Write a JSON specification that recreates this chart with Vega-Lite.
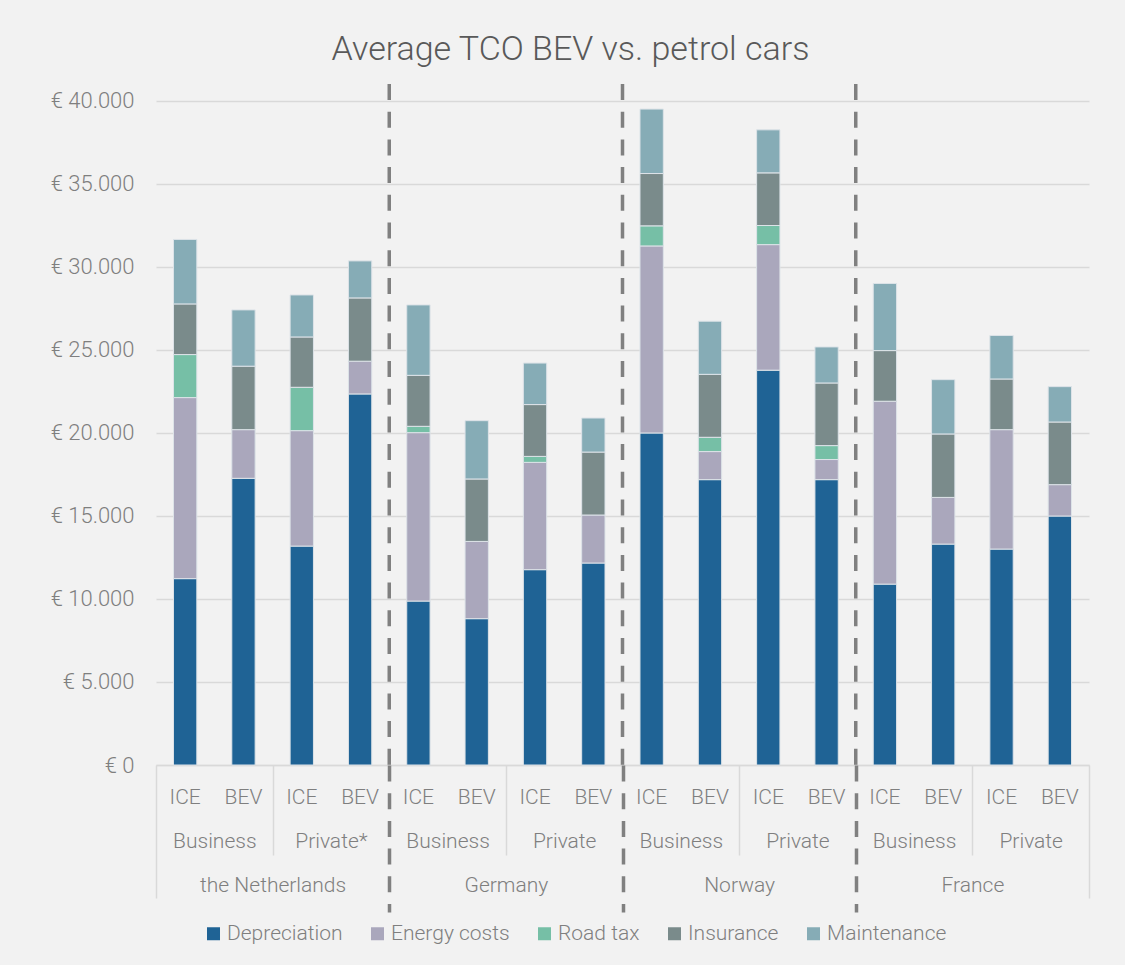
{
  "$schema": "https://vega.github.io/schema/vega-lite/v6.json",
  "width": 933,
  "height": 681,
  "autosize": {"type": "none"},
  "padding": {"left": 156, "top": 84, "right": 36, "bottom": 200},
  "background": "#f2f2f2",
  "title": {
    "text": "Average TCO BEV vs. petrol cars",
    "font": "Roboto",
    "fontSize": 34,
    "fontWeight": 300,
    "color": "#595959",
    "anchor": "middle",
    "frame": "group",
    "baseline": "alphabetic",
    "offset": 24,
    "dx": -52,
    "dy": 36
  },
  "config": {
    "font": "Roboto",
    "view": {"stroke": null},
    "axis": {
      "labelFont": "Roboto",
      "labelFontWeight": 300,
      "labelFontSize": 21,
      "labelColor": "#7f7f7f",
      "title": null
    },
    "legend": {
      "orient": "none",
      "legendX": 47,
      "legendY": 839,
      "direction": "horizontal",
      "title": null,
      "symbolType": "square",
      "symbolSize": 169,
      "symbolStrokeWidth": 0,
      "labelFont": "Roboto",
      "labelFontWeight": 300,
      "labelFontSize": 21,
      "labelColor": "#7f7f7f",
      "labelOffset": 3,
      "columnPadding": 24
    }
  },
  "datasets": {
    "costs": [
      {"country": "the Netherlands", "segment": "Business", "car": "ICE", "component": "Depreciation", "value": 11220},
      {"country": "the Netherlands", "segment": "Business", "car": "ICE", "component": "Energy costs", "value": 10900},
      {"country": "the Netherlands", "segment": "Business", "car": "ICE", "component": "Road tax", "value": 2590},
      {"country": "the Netherlands", "segment": "Business", "car": "ICE", "component": "Insurance", "value": 3050},
      {"country": "the Netherlands", "segment": "Business", "car": "ICE", "component": "Maintenance", "value": 3880},
      {"country": "the Netherlands", "segment": "Business", "car": "BEV", "component": "Depreciation", "value": 17260},
      {"country": "the Netherlands", "segment": "Business", "car": "BEV", "component": "Energy costs", "value": 2930},
      {"country": "the Netherlands", "segment": "Business", "car": "BEV", "component": "Insurance", "value": 3820},
      {"country": "the Netherlands", "segment": "Business", "car": "BEV", "component": "Maintenance", "value": 3390},
      {"country": "the Netherlands", "segment": "Private", "car": "ICE", "component": "Depreciation", "value": 13180},
      {"country": "the Netherlands", "segment": "Private", "car": "ICE", "component": "Energy costs", "value": 6950},
      {"country": "the Netherlands", "segment": "Private", "car": "ICE", "component": "Road tax", "value": 2610},
      {"country": "the Netherlands", "segment": "Private", "car": "ICE", "component": "Insurance", "value": 3030},
      {"country": "the Netherlands", "segment": "Private", "car": "ICE", "component": "Maintenance", "value": 2530},
      {"country": "the Netherlands", "segment": "Private", "car": "BEV", "component": "Depreciation", "value": 22340},
      {"country": "the Netherlands", "segment": "Private", "car": "BEV", "component": "Energy costs", "value": 1970},
      {"country": "the Netherlands", "segment": "Private", "car": "BEV", "component": "Insurance", "value": 3810},
      {"country": "the Netherlands", "segment": "Private", "car": "BEV", "component": "Maintenance", "value": 2230},
      {"country": "Germany", "segment": "Business", "car": "ICE", "component": "Depreciation", "value": 9870},
      {"country": "Germany", "segment": "Business", "car": "ICE", "component": "Energy costs", "value": 10140},
      {"country": "Germany", "segment": "Business", "car": "ICE", "component": "Road tax", "value": 380},
      {"country": "Germany", "segment": "Business", "car": "ICE", "component": "Insurance", "value": 3070},
      {"country": "Germany", "segment": "Business", "car": "ICE", "component": "Maintenance", "value": 4240},
      {"country": "Germany", "segment": "Business", "car": "BEV", "component": "Depreciation", "value": 8810},
      {"country": "Germany", "segment": "Business", "car": "BEV", "component": "Energy costs", "value": 4650},
      {"country": "Germany", "segment": "Business", "car": "BEV", "component": "Insurance", "value": 3760},
      {"country": "Germany", "segment": "Business", "car": "BEV", "component": "Maintenance", "value": 3510},
      {"country": "Germany", "segment": "Private", "car": "ICE", "component": "Depreciation", "value": 11760},
      {"country": "Germany", "segment": "Private", "car": "ICE", "component": "Energy costs", "value": 6460},
      {"country": "Germany", "segment": "Private", "car": "ICE", "component": "Road tax", "value": 360},
      {"country": "Germany", "segment": "Private", "car": "ICE", "component": "Insurance", "value": 3120},
      {"country": "Germany", "segment": "Private", "car": "ICE", "component": "Maintenance", "value": 2500},
      {"country": "Germany", "segment": "Private", "car": "BEV", "component": "Depreciation", "value": 12160},
      {"country": "Germany", "segment": "Private", "car": "BEV", "component": "Energy costs", "value": 2890},
      {"country": "Germany", "segment": "Private", "car": "BEV", "component": "Insurance", "value": 3790},
      {"country": "Germany", "segment": "Private", "car": "BEV", "component": "Maintenance", "value": 2050},
      {"country": "Norway", "segment": "Business", "car": "ICE", "component": "Depreciation", "value": 19990},
      {"country": "Norway", "segment": "Business", "car": "ICE", "component": "Energy costs", "value": 11260},
      {"country": "Norway", "segment": "Business", "car": "ICE", "component": "Road tax", "value": 1210},
      {"country": "Norway", "segment": "Business", "car": "ICE", "component": "Insurance", "value": 3150},
      {"country": "Norway", "segment": "Business", "car": "ICE", "component": "Maintenance", "value": 3880},
      {"country": "Norway", "segment": "Business", "car": "BEV", "component": "Depreciation", "value": 17180},
      {"country": "Norway", "segment": "Business", "car": "BEV", "component": "Energy costs", "value": 1690},
      {"country": "Norway", "segment": "Business", "car": "BEV", "component": "Road tax", "value": 860},
      {"country": "Norway", "segment": "Business", "car": "BEV", "component": "Insurance", "value": 3790},
      {"country": "Norway", "segment": "Business", "car": "BEV", "component": "Maintenance", "value": 3200},
      {"country": "Norway", "segment": "Private", "car": "ICE", "component": "Depreciation", "value": 23770},
      {"country": "Norway", "segment": "Private", "car": "ICE", "component": "Energy costs", "value": 7560},
      {"country": "Norway", "segment": "Private", "car": "ICE", "component": "Road tax", "value": 1150},
      {"country": "Norway", "segment": "Private", "car": "ICE", "component": "Insurance", "value": 3170},
      {"country": "Norway", "segment": "Private", "car": "ICE", "component": "Maintenance", "value": 2590},
      {"country": "Norway", "segment": "Private", "car": "BEV", "component": "Depreciation", "value": 17180},
      {"country": "Norway", "segment": "Private", "car": "BEV", "component": "Energy costs", "value": 1210},
      {"country": "Norway", "segment": "Private", "car": "BEV", "component": "Road tax", "value": 840},
      {"country": "Norway", "segment": "Private", "car": "BEV", "component": "Insurance", "value": 3770},
      {"country": "Norway", "segment": "Private", "car": "BEV", "component": "Maintenance", "value": 2170},
      {"country": "France", "segment": "Business", "car": "ICE", "component": "Depreciation", "value": 10890},
      {"country": "France", "segment": "Business", "car": "ICE", "component": "Energy costs", "value": 11010},
      {"country": "France", "segment": "Business", "car": "ICE", "component": "Insurance", "value": 3050},
      {"country": "France", "segment": "Business", "car": "ICE", "component": "Maintenance", "value": 4040},
      {"country": "France", "segment": "Business", "car": "BEV", "component": "Depreciation", "value": 13300},
      {"country": "France", "segment": "Business", "car": "BEV", "component": "Energy costs", "value": 2810},
      {"country": "France", "segment": "Business", "car": "BEV", "component": "Insurance", "value": 3820},
      {"country": "France", "segment": "Business", "car": "BEV", "component": "Maintenance", "value": 3270},
      {"country": "France", "segment": "Private", "car": "ICE", "component": "Depreciation", "value": 13000},
      {"country": "France", "segment": "Private", "car": "ICE", "component": "Energy costs", "value": 7190},
      {"country": "France", "segment": "Private", "car": "ICE", "component": "Insurance", "value": 3050},
      {"country": "France", "segment": "Private", "car": "ICE", "component": "Maintenance", "value": 2620},
      {"country": "France", "segment": "Private", "car": "BEV", "component": "Depreciation", "value": 14990},
      {"country": "France", "segment": "Private", "car": "BEV", "component": "Energy costs", "value": 1890},
      {"country": "France", "segment": "Private", "car": "BEV", "component": "Insurance", "value": 3770},
      {"country": "France", "segment": "Private", "car": "BEV", "component": "Maintenance", "value": 2130}
    ],
    "countries": [
      {"country": "the Netherlands", "from": 0, "to": 4},
      {"country": "Germany", "from": 4, "to": 8},
      {"country": "Norway", "from": 8, "to": 12},
      {"country": "France", "from": 12, "to": 16}
    ]
  },
  "layer": [
    {
      "data": {"name": "costs"},
      "transform": [
        {"calculate": "datum.country + '|' + datum.segment + '|' + datum.car", "as": "bar"},
        {"calculate": "indexof(['Depreciation', 'Energy costs', 'Road tax', 'Insurance', 'Maintenance'], datum.component)", "as": "stackRank"}
      ],
      "mark": {"type": "bar", "stroke": "#dde3e8", "strokeWidth": 1},
      "encoding": {
        "x": {
          "field": "bar",
          "type": "nominal",
          "sort": null,
          "scale": {"paddingInner": 0.6, "paddingOuter": 0.3},
          "axis": {
            "orient": "bottom",
            "labelExpr": "split(datum.label, '|')[2]",
            "labelAngle": 0,
            "labelBaseline": "alphabetic",
            "labelPadding": 38,
            "ticks": false,
            "domain": true,
            "domainColor": "#d9d9d9",
            "domainWidth": 1.5,
            "grid": false,
            "title": null
          }
        },
        "y": {
          "field": "value",
          "type": "quantitative",
          "stack": "zero",
          "scale": {"domain": [0, 41000], "nice": false},
          "axis": {
            "values": [0, 5000, 10000, 15000, 20000, 25000, 30000, 35000, 40000],
            "labelExpr": "'€ ' + replace(format(datum.value, ','), ',', '.')",
            "labelFontSize": 22,
            "domain": false,
            "ticks": false,
            "labelPadding": 22,
            "grid": true,
            "gridColor": "#d9d9d9",
            "gridWidth": 1.5,
            "title": null
          }
        },
        "color": {
          "field": "component",
          "type": "nominal",
          "sort": ["Depreciation", "Energy costs", "Road tax", "Insurance", "Maintenance"],
          "scale": {
            "domain": ["Depreciation", "Energy costs", "Road tax", "Insurance", "Maintenance"],
            "range": ["#1f6395", "#aaa7bc", "#76bfa6", "#7a8b8b", "#86acb6"]
          },
          "legend": {"title": null}
        },
        "order": {"field": "stackRank", "type": "quantitative", "sort": "ascending"}
      }
    },
    {
      "data": {"name": "countries"},
      "transform": [{"filter": "datum.from > 0"}],
      "mark": {"type": "rule", "color": "#808080", "strokeWidth": 3.5, "strokeDash": [16, 11.7], "strokeCap": "butt"},
      "encoding": {
        "x": {
          "field": "from",
          "type": "quantitative",
          "scale": {"domain": [0, 16], "nice": false, "zero": false},
          "axis": {
            "orient": "bottom",
            "values": [0, 2, 4, 6, 8, 10, 12, 14, 16],
            "labelExpr": "datum.value == 2 ? 'the Netherlands' : datum.value == 6 ? 'Germany' : datum.value == 10 ? 'Norway' : datum.value == 14 ? 'France' : ''",
            "labelAngle": 0,
            "labelAlign": "center",
            "labelBaseline": "alphabetic",
            "labelPadding": -21,
            "labelFlush": false,
            "labelOverlap": false,
            "domain": false,
            "grid": false,
            "ticks": true,
            "tickSize": 147,
            "tickCap": "butt",
            "tickOpacity": {"condition": {"test": "datum.value % 4 == 2", "value": 0}, "value": 1},
            "tickColor": {"condition": {"test": "datum.value == 0 || datum.value == 16", "value": "#d9d9d9"}, "value": "#808080"},
            "tickWidth": {"condition": {"test": "datum.value == 0 || datum.value == 16", "value": 1.5}, "value": 3.5},
            "tickDash": {"condition": {"test": "datum.value == 0 || datum.value == 16", "value": [133, 100]}, "value": [16, 11.7]},
            "title": null
          }
        }
      }
    },
    {
      "data": {"name": "countries"},
      "mark": {"type": "rule", "opacity": 0},
      "encoding": {
        "x": {
          "field": "from",
          "type": "quantitative",
          "scale": {"domain": [0, 16], "nice": false, "zero": false},
          "axis": {
            "orient": "bottom",
            "values": [1, 2, 3, 5, 6, 7, 9, 10, 11, 13, 14, 15],
            "labelExpr": "datum.value % 2 == 0 ? '' : (datum.value % 4 == 1 ? 'Business' : (datum.value == 3 ? 'Private*' : 'Private'))",
            "labelAngle": 0,
            "labelAlign": "center",
            "labelBaseline": "alphabetic",
            "labelPadding": -8,
            "labelFlush": false,
            "labelOverlap": false,
            "domain": false,
            "grid": false,
            "ticks": true,
            "tickSize": 90,
            "tickColor": "#d9d9d9",
            "tickWidth": 1.5,
            "tickOpacity": {"condition": {"test": "datum.value % 2 == 1", "value": 0}, "value": 1},
            "title": null
          }
        }
      }
    }
  ],
  "resolve": {"scale": {"x": "independent"}, "axis": {"x": "independent"}}
}
